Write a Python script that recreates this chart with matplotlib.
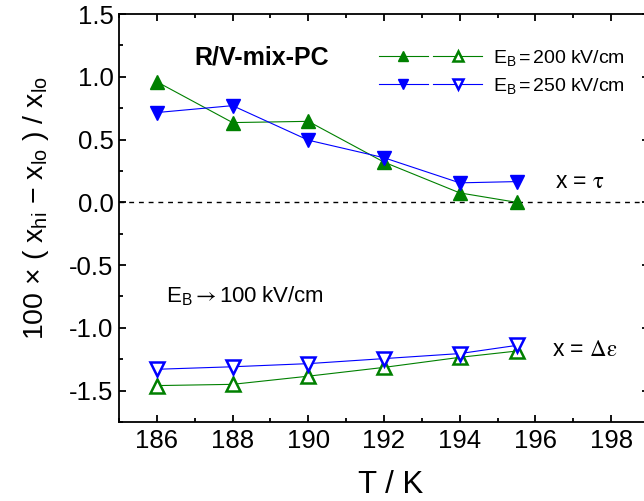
import matplotlib
matplotlib.use("Agg")
import matplotlib.pyplot as plt
from matplotlib.legend_handler import HandlerTuple
from matplotlib.ticker import MultipleLocator, FormatStrFormatter

plt.rcParams['font.family'] = ['Liberation Sans', 'DejaVu Sans']
plt.rcParams['mathtext.fontset'] = 'stix'
plt.rcParams['axes.unicode_minus'] = False

# Temperatures and relative changes (percent) for the two field strengths
T = [186, 188, 190, 192, 194, 195.5]
tau_200 = [0.96, 0.635, 0.645, 0.32, 0.075, 0.0]
tau_250 = [0.715, 0.77, 0.495, 0.355, 0.155, 0.165]
deps_200 = [-1.46, -1.45, -1.385, -1.315, -1.235, -1.185]
deps_250 = [-1.33, -1.31, -1.285, -1.245, -1.205, -1.14]

labels = [r"$\mathregular{E_B = 200\ kV/cm}$", r"$\mathregular{E_B = 250\ kV/cm}$"]
xlim = (185, 199)
ylim = (-1.75, 1.5)

green = '#008000'
blue = '#0000ff'

W, H = 644, 501
fig = plt.figure(figsize=(W / 100, H / 100), dpi=100)
ax = fig.add_axes([119 / W, 79 / H, 530 / W, 408 / H])

ax.axhline(0.0, color='black', lw=1.0, ls=(0, (3.5, 3.5)), zorder=1)

ms = 10.5
l1, = ax.plot(T, tau_200, color=green, lw=0.8, marker='^', ms=ms,
              mfc=green, mec=green, zorder=3)
l2, = ax.plot(T, tau_250, color=blue, lw=0.8, marker='v', ms=ms,
              mfc=blue, mec=blue, zorder=3)
o1, = ax.plot(T, deps_200, color=green, lw=0.8, marker='^', ms=ms,
              mfc='white', mec=green, mew=1.8, zorder=3)
o2, = ax.plot(T, deps_250, color=blue, lw=0.8, marker='v', ms=ms,
              mfc='white', mec=blue, mew=1.8, zorder=3)

ax.set_xlim(*xlim)
ax.set_ylim(*ylim)
ax.xaxis.set_major_locator(MultipleLocator(2))
ax.xaxis.set_minor_locator(MultipleLocator(1))
ax.yaxis.set_major_locator(MultipleLocator(0.5))
ax.yaxis.set_minor_locator(MultipleLocator(0.25))
ax.yaxis.set_major_formatter(FormatStrFormatter('%.1f'))
ax.xaxis.set_major_formatter(FormatStrFormatter('%d'))

for s in ax.spines.values():
    s.set_linewidth(1.3)
ax.tick_params(which='both', direction='in', top=True, right=True,
               width=1.3, labelsize=18.5)
ax.tick_params(which='major', length=5)
ax.tick_params(which='minor', length=3)
ax.tick_params(axis='y', pad=4)
ax.tick_params(axis='x', pad=5)

fig.text(391 / W, 7.7 / H, "T / K", fontsize=22.5, ha='center', va='baseline')
fig.text(36 / W, 1 - 208 / H,
         r"100 $\mathregular{\times}$ ( x$\mathregular{_{hi}}$ $\mathregular{-}$ x$\mathregular{_{lo}}$ ) / x$\mathregular{_{lo}}$",
         fontsize=20.5, rotation=90, ha='center', va='center')

fig.text(262 / W, 1 - 57.5 / H, "R/V-mix-PC", fontsize=18,
         fontweight='bold', ha='center', va='center')
fig.text(555 / W, 1 - 181.7 / H, r"x = $\mathrm{\tau}$", fontsize=16.5,
         ha='left', va='center')
fig.text(552 / W, 1 - 350 / H, r"x = $\mathrm{\Delta\varepsilon}$", fontsize=16.5,
         ha='left', va='center')
fig.text(166 / W, 1 - 296.7 / H, r"$\mathregular{E_B}\rightarrow\mathregular{100\ kV/cm}$",
         fontsize=16, ha='left', va='center')

leg = ax.legend([(l1, o1), (l2, o2)], labels,
                handler_map={tuple: HandlerTuple(ndivide=None, pad=0.3)},
                loc='upper left', bbox_to_anchor=(379 / W, 1 - 48 / H),
                bbox_transform=fig.transFigure, frameon=False,
                fontsize=14, handlelength=5.3, handletextpad=0.55,
                labelspacing=0.4, borderpad=0, borderaxespad=0,
                markerscale=0.7)

fig.savefig("out.png", dpi=100)
